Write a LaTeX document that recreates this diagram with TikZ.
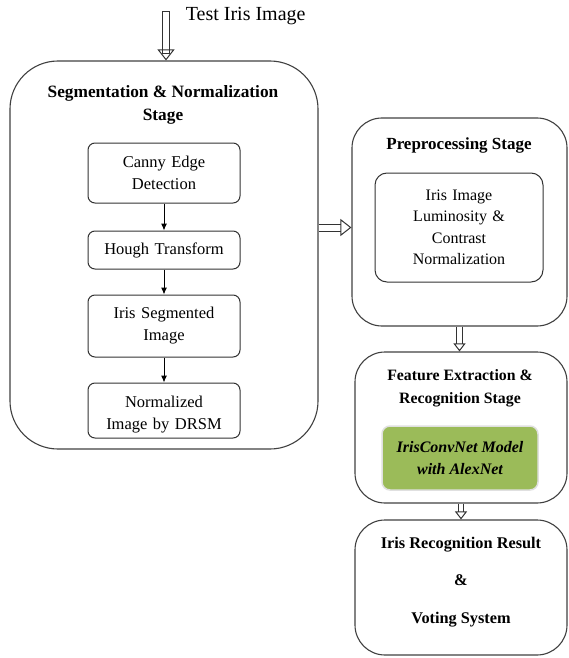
\documentclass[tikz,border=0pt]{standalone}
\usepackage{fontspec}
\setmainfont{Liberation Serif}
\usetikzlibrary{arrows.meta,positioning}
\definecolor{leafgreen}{HTML}{9BBB59}

\begin{document}
\begin{tikzpicture}[
    x=1pt, y=-1pt,
    node distance=25pt,
    >=Latex,
    line width=1pt,
    every node/.style={font=\fontsize{16.5}{22}\selectfont},
    stage/.style={
        rectangle,
        rounded corners=30pt,
        draw=black!75,
        line width=1.1pt,
        inner sep=0pt
    },
    stagetitle/.style={
        align=center,
        font=\fontsize{17}{23}\selectfont\bfseries
    },
    stepbox/.style={
        rectangle,
        rounded corners=7pt,
        draw=black!80,
        line width=1pt,
        align=center,
        text width=142pt,
        minimum width=152pt,
        minimum height=60pt,
        inner sep=4pt
    },
    model/.style={
        rectangle,
        rounded corners=8pt,
        draw=black!12,
        line width=1.5pt,
        fill=leafgreen,
        align=center,
        minimum width=156pt,
        minimum height=64pt,
        font=\fontsize{16}{22}\selectfont\bfseries\itshape
    },
    flow/.style={-{Latex[length=7pt, width=6pt]}, draw=black, line width=1pt},
    hollow/.style={
        draw=black!80,
        line width=1pt,
        double=white,
        double distance=6pt,
        -{Triangle[open, length=11pt, width=17pt, line width=1pt]}
    },
    hollowsm/.style={
        hollow,
        double distance=4.5pt,
        -{Triangle[open, length=8pt, width=12pt, line width=1pt]}
    }
]
\useasboundingbox (0,0) rectangle (568,658);

% input
\coordinate (src) at (166,15);
\node[anchor=west, font=\fontsize{20}{24}\selectfont] (testimg) at (182,16) {Test Iris Image};

% segmentation stage
\node[stage, rounded corners=48pt, minimum width=308pt, minimum height=388pt] (segbox) at (164,255) {};
\node[stagetitle, font=\fontsize{17.3}{23}\selectfont\bfseries] (segtitle) at (163,105) {Segmentation \& Normalization\\Stage};
\node[stepbox] (canny) at (164,173) {Canny Edge\\Detection};
\node[stepbox, minimum height=38pt, below=27pt of canny] (hough) {Hough Transform};
\node[stepbox, minimum height=62pt, below=of hough] (irisseg) {Iris Segmented\\Image};
\node[stepbox, minimum height=55pt, below=of irisseg] (normdrsm) {\rule{0pt}{19pt}Normalized\\Image by DRSM};

% preprocessing stage
\node[stage, minimum width=215pt, minimum height=208pt] (prepbox) at (459.5,222) {};
\node[stagetitle] (preptitle) at (459,145) {Preprocessing Stage};
\node[stepbox, rounded corners=12pt, text width=158pt, minimum width=168pt, minimum height=109pt,
      font=\fontsize{16}{21.5}\selectfont] (lumin) at (459,227.5) {Iris Image\\Luminosity \&\\Contrast\\Normalization};

% feature extraction stage
\node[stage, minimum width=212pt, minimum height=151pt] (featbox) at (461,427.5) {};
\node[stagetitle, font=\fontsize{15.8}{23}\selectfont\bfseries] (feattitle) at (460,388) {Feature Extraction \&\\Recognition Stage};
\node[model] (convnet) at (460,458) {IrisConvNet Model\\with AlexNet};

% result
\node[stage, minimum width=212pt, minimum height=135pt] (resbox) at (461,587.5) {};
\node[stagetitle, font=\fontsize{16.3}{37.5}\selectfont\bfseries] (restext) at (461,582) {Iris Recognition Result\\\&\\Voting System};

\draw[flow] (canny) -- (hough);
\draw[flow] (hough) -- (irisseg);
\draw[flow] (irisseg) -- (normdrsm);

\draw[hollow, line cap=rect] (src) -- (src |- segbox.north);
\draw[hollow] (segbox.east |- lumin) -- (prepbox.west |- lumin);
\draw[hollowsm] (prepbox.south) -- (prepbox.south |- featbox.north);
\draw[hollowsm] (featbox.south) -- (featbox.south |- resbox.north);

\end{tikzpicture}
\end{document}
